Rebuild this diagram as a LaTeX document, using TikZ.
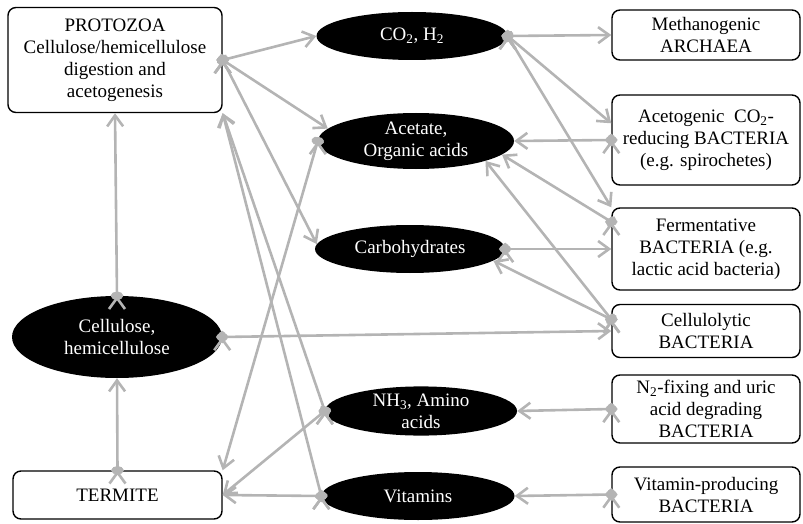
\documentclass[tikz,border=0pt]{standalone}
\usepackage{fontspec}
\setmainfont{Liberation Serif}
\usetikzlibrary{shapes.geometric,arrows.meta}
\definecolor{linkgray}{RGB}{180,180,180}
\begin{document}
\begin{tikzpicture}[x=1pt,y=-1pt,font=\fontsize{19}{22}\selectfont,
           box_style/.style={rectangle,rounded corners=8pt,draw=black,line width=1.4pt,fill=white,align=center,inner sep=0pt},
           oval_style/.style={ellipse,fill=black,text=white,align=center,inner sep=0pt},
           right_box/.style={box_style,minimum width=188},
           edge_style/.style={color=linkgray,line width=2.6pt,shorten <=-4pt,
             {Circle[length=8pt,width=12pt]}-{Straight Barb[length=11pt,width=16pt]}}]
            \useasboundingbox (0,0) rectangle (803,524);
            \node[box_style,minimum width=214,minimum height=105] (protozoa) at (115,60) {PROTOZOA\\Cellulose/hemicellulose\\digestion and\\acetogenesis};
            \node[oval_style,minimum width=210,minimum height=82] (cellulose) at (117,337) {Cellulose,\\hemicellulose};
            \node[box_style,minimum width=209,minimum height=48] (termite) at (117.5,495) {TERMITE};
            \node[oval_style,minimum width=191,minimum height=48] (co2) at (412,36) {CO\textsubscript{2}, H\textsubscript{2}};
            \node[oval_style,minimum width=196,minimum height=56] (acetate) at (416,141) {Acetate,\\Organic acids};
            \node[oval_style,minimum width=190,minimum height=48] (carb) at (410,249) {Carbohydrates};
            \node[oval_style,minimum width=192,minimum height=48] (nh3) at (421,411) {NH\textsubscript{3}, Amino\\acids};
            \node[oval_style,minimum width=193,minimum height=48] (vit) at (418,496) {Vitamins};
            \node[right_box,minimum height=50] (methano) at (706,35) {Methanogenic\\ARCHAEA};
            \node[right_box,minimum height=90] (acetogen) at (706,140) {Acetogenic~ CO\textsubscript{2}-\\reducing BACTERIA\\(e.g. spirochetes)};
            \node[right_box,minimum height=82] (ferment) at (706,249) {Fermentative\\BACTERIA (e.g.\\lactic acid bacteria)};
            \node[right_box,minimum height=53] (cellulo) at (706,331) {Cellulolytic\\BACTERIA};
            \node[right_box,minimum height=68] (nfix) at (706,409) {N\textsubscript{2}-fixing and uric\\acid degrading\\BACTERIA};
            \node[right_box,minimum height=55] (vitprod) at (706,494.5) {Vitamin-producing\\BACTERIA};
            \draw[edge_style]  (protozoa.east) edge (co2.west);
            \draw[edge_style]  (protozoa.east) edge (acetate.172);
            \draw[edge_style]  (protozoa.east) edge (carb.177);
            \draw[edge_style]  (cellulose.north) edge (protozoa.south);
            \draw[edge_style]  (termite.north) edge (cellulose.south);
            \draw[edge_style]  (cellulose.east) edge (cellulo.west);
            \draw[edge_style]  (acetate.west) edge (termite.north east);
            \draw[edge_style]  (nh3.west) edge (termite.east);
            \draw[edge_style]  (vit.west) edge (termite.east);
            \draw[edge_style]  (nh3.west) edge (protozoa.south east);
            \draw[edge_style]  (vit.west) edge (protozoa.south east);
            \draw[edge_style]  (co2.east) edge (methano.west);
            \draw[edge_style]  (co2.east) edge (acetogen.170);
            \draw[edge_style]  (co2.east) edge (ferment.north west);
            \draw[edge_style]  (acetogen.west) edge (acetate.east);
            \draw[edge_style]  (ferment.164) edge (acetate.-9);
            \draw[edge_style]  (carb.east) edge (ferment.west);
            \draw[edge_style]  (cellulo.173) edge (carb.-8);
            \draw[edge_style]  (cellulo.173) edge (acetate.-16);
            \draw[edge_style]  (nfix.west) edge (nh3.east);
            \draw[edge_style]  (vitprod.west) edge (vit.east);
        \end{tikzpicture}
\end{document}
